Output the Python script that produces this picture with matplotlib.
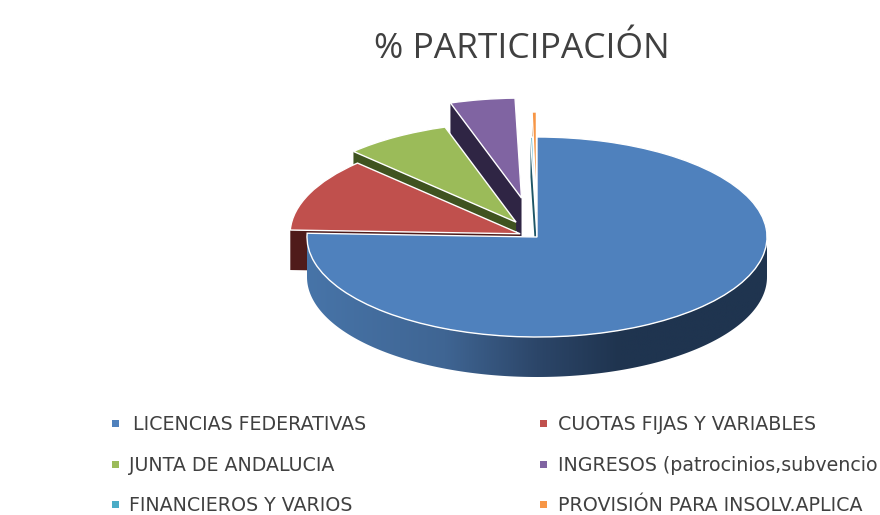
import matplotlib
matplotlib.use('Agg')
import matplotlib.pyplot as plt
import numpy as np
from matplotlib.colors import LinearSegmentedColormap
from matplotlib.patches import Polygon, Rectangle

# Data, the last two long labels stop where the picture cuts them
labels = ['LICENCIAS FEDERATIVAS', 'CUOTAS FIJAS Y VARIABLES', 'JUNTA DE ANDALUCIA',
          'INGRESOS (patrocinios,subvencio', 'FINANCIEROS Y VARIOS',
          'PROVISIÓN PARA INSOLV.APLICA']
values = [75.6, 11.9, 7.5, 4.55, 0.15, 0.3]

colors = ['#4F81BD', '#C0504D', '#9BBB59', '#8064A2', '#4BACC6', '#F79646']
dark_colors = ['#1F344F', '#4F1B1A', '#3F5320', '#2F2544', '#1E5566', '#A8611F']
explode = [0, 0.08, 0.174, 0.395, 0, 0.25]
depth = 0.4

plt.rcParams['font.family'] = ['Open Sans', 'DejaVu Sans']
fig = plt.figure(figsize=(8.8, 5.15), dpi=100)
ax = fig.add_axes([0, 0, 1, 1])

wedges, _ = ax.pie(values, explode=explode, colors=colors, startangle=90, counterclock=False,
                   radius=1, wedgeprops={'edgecolor': 'white', 'linewidth': 1.0})

# squash the pie into an ellipse, 1 unit = 230px across and 100px down
ax.set_aspect('auto')
ax.set_xlim(-537 / 230, (880 - 537) / 230)
ax.set_ylim(-(515 - 237) / 100, 237 / 100)
ax.axis('off')

# draw back to front: purple, orange, cyan, green, red, blue
order = {3: 2, 5: 3, 4: 4, 2: 5, 1: 6, 0: 8}
for i, w in enumerate(wedges):
    w.set_zorder(order[i] + 0.5)
    if i == 0:
        continue
    # the radial side that faces the viewer
    a = np.deg2rad(w.theta1)
    cx, cy = w.center
    ex, ey = cx + w.r * np.cos(a), cy + w.r * np.sin(a)
    a2 = np.deg2rad(w.theta2)
    ex2, ey2 = cx + w.r * np.cos(a2), cy + w.r * np.sin(a2)
    # clockwise pie: the left edge is the one with the larger angle
    side_x, side_y = (ex, ey) if ex < ex2 else (ex2, ey2)
    side = Polygon([(cx, cy), (side_x, side_y), (side_x, side_y - depth), (cx, cy - depth)],
                   closed=True, facecolor=dark_colors[i], edgecolor='none', zorder=order[i])
    ax.add_patch(side)

# front wall of the big slice with the left to right shading
t = np.linspace(np.pi, 2 * np.pi, 200)
wall_x = np.concatenate([np.cos(t), np.cos(t[::-1])])
wall_y = np.concatenate([np.sin(t) - depth, np.sin(t[::-1])])
wall = Polygon(np.column_stack([wall_x, wall_y]), closed=True, facecolor='none', edgecolor='none', zorder=7)
ax.add_patch(wall)
shade = LinearSegmentedColormap.from_list('wall', [(0, '#4774A8'), (0.3, '#3F6593'), (0.5, '#2C4669'),
                                                    (0.68, '#1F344F'), (1, '#1F344F')])
img = ax.imshow(np.linspace(0, 1, 256).reshape(1, -1), cmap=shade, extent=(-1, 1, -1.4, 0.1),
                aspect='auto', zorder=7)
img.set_clip_path(wall)
ax.set_xlim(-537 / 230, (880 - 537) / 230)
ax.set_ylim(-(515 - 237) / 100, 237 / 100)

# title and legend, pixel positions from the top left corner
fig.text(522 / 880, 1 - 49 / 515, '% PARTICIPACIÓN', fontsize=25.5, color='#404040', ha='center', va='center')

legend_x = [115, 543]
legend_y = [424, 465, 505]
text_x = [[133, 558], [129, 558], [129, 558]]
for i, label in enumerate(labels):
    row, col = i // 2, i % 2
    px, py = legend_x[col], legend_y[row]
    fig.add_artist(Rectangle(((px - 3) / 880, 1 - (py + 3) / 515), 7 / 880, 7 / 515, transform=fig.transFigure,
                             facecolor=colors[i], edgecolor='none'))
    # wider face here, the labels in the picture are stretched sideways
    fig.text(text_x[row][col] / 880, 1 - (py + 0.5) / 515, label, fontsize=13.7, color='#404040', ha='left', va='center',
             family=['DejaVu Sans'])

fig.savefig('out.png', dpi=100, facecolor='white')
